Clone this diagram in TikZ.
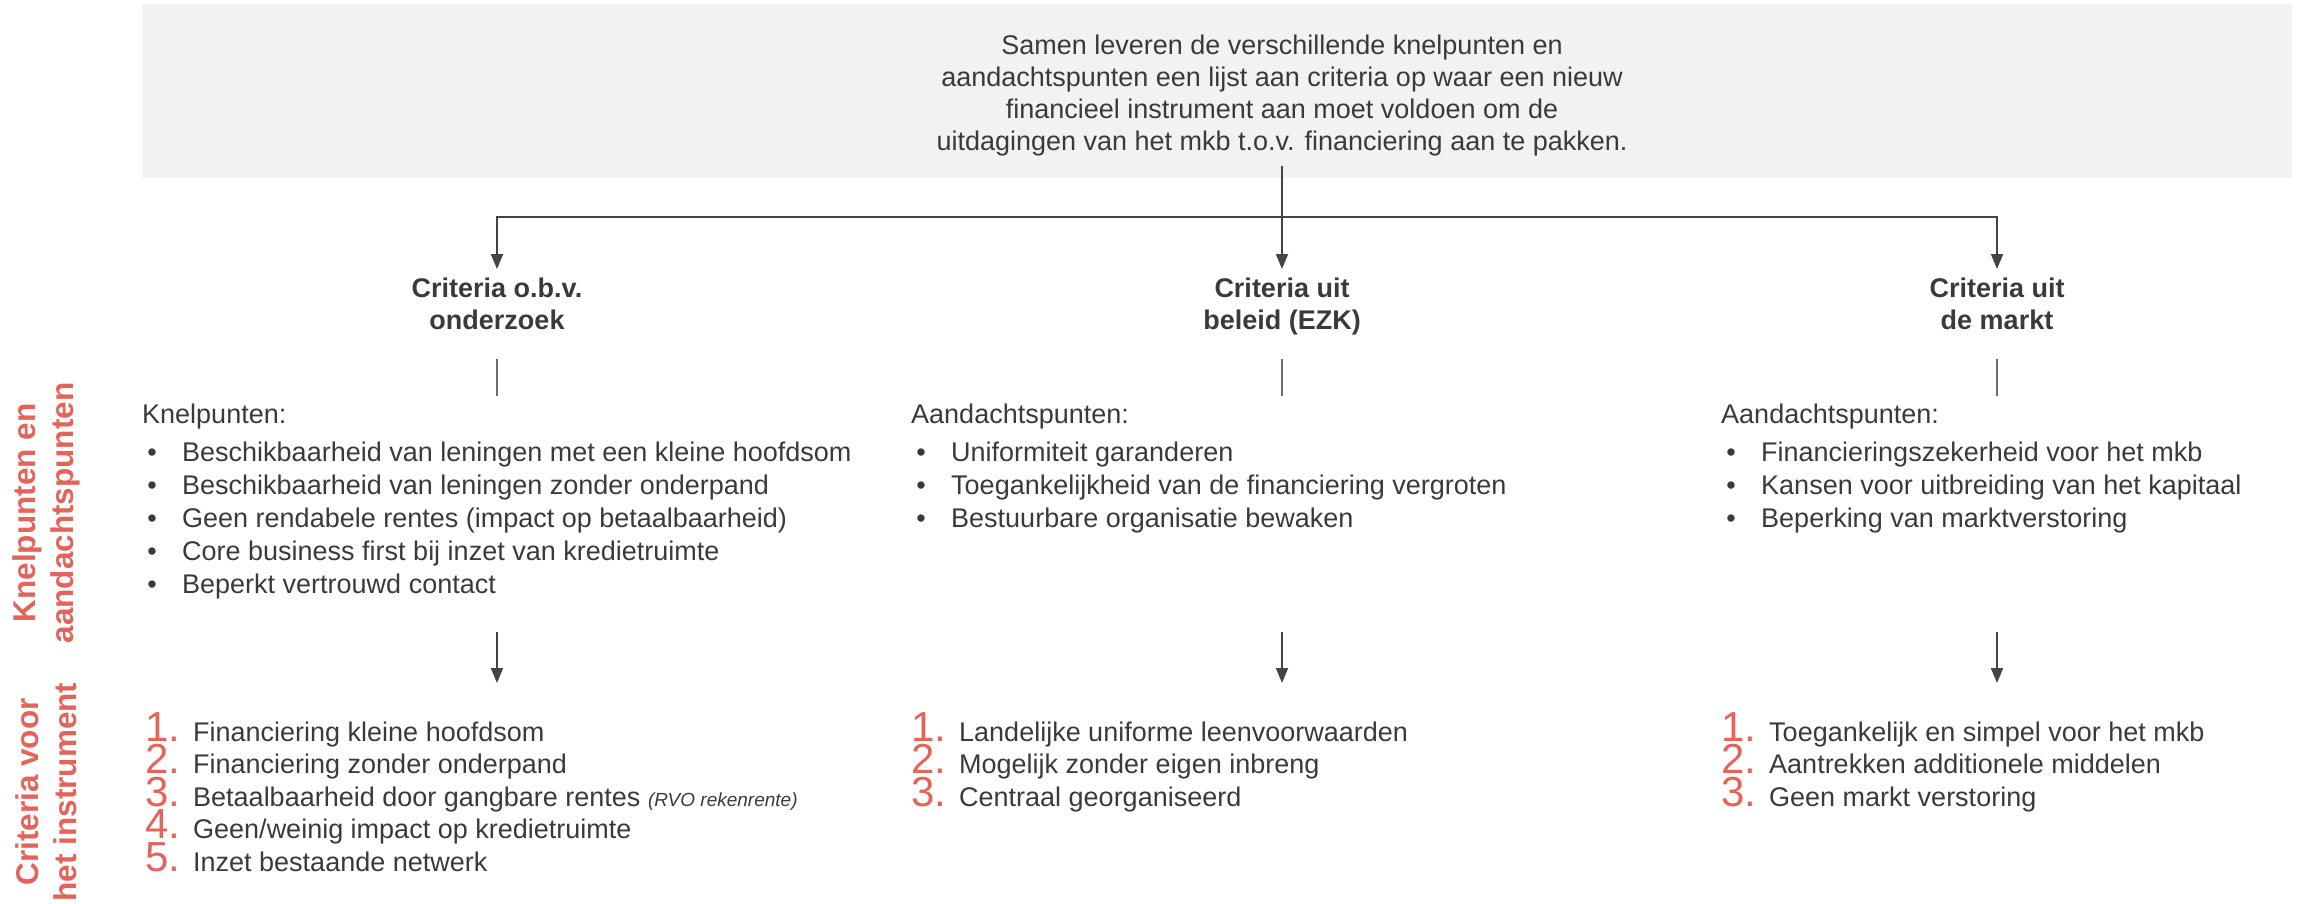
\documentclass[tikz,border=0pt]{standalone}
\usepackage{fontspec}
\setmainfont{Liberation Sans}
\usetikzlibrary{arrows.meta,positioning,calc}
\definecolor{ink}{HTML}{3A3A3A}
\definecolor{accent}{HTML}{E2645A}
\definecolor{vak}{HTML}{F2F2F2}
\definecolor{streepgrijs}{HTML}{6E6E6E}
\tikzset{tekst/.style={inner sep=0pt,text=ink,font=\fontsize{27}{32}\selectfont},
  punt/.style={tekst,anchor=base west},
  nr/.style={inner sep=0pt,anchor=base west,text=accent,font=\fontsize{42}{32}\selectfont},
  titel/.style={anchor=north,align=center,inner xsep=0pt,inner ysep=8.5pt,text=ink,
    font=\bfseries\fontsize{27}{32}\selectfont},
  zij/.style={rotate=90,align=center,inner sep=0pt,text=accent,
    font=\bfseries\fontsize{31.5}{38}\selectfont},
  lijn/.style={line width=1.8pt,draw=ink!95},
  pijl/.style={lijn,-{Triangle[length=15pt,width=12pt]}},
  streep/.style={line width=1.8pt,draw=streepgrijs}}
% kop met opsomming: x, naam, kop, punten
\newcommand{\punten}[4]{%
\node[punt] (#2kop) at (#1,423) {#3};
\foreach \t [count=\i] in {#4}{
 \node[punt] (#2p\i) at (#1+40,{461+(\i-1)*33}) {\t};
 \node[tekst,anchor=base] (#2b\i) at (#1+10,{461+(\i-1)*33}) {\textbullet};
}}
% genummerde criteria: x, naam, criteria
\newcommand{\eisen}[3]{%
\foreach \t [count=\i] in {#3}{
 \node[nr] (#2n\i) at (#1,{741+(\i-1)*32.5}) {\i.};
 \node[punt] (#2e\i) at (#1+48,{741+(\i-1)*32.5}) {\t};
}}

\begin{document}
\begin{tikzpicture}[x=1pt,y=-1pt]
\useasboundingbox (0,0) rectangle (2303,903);
\fill[vak] (142,4) rectangle (2292,178);
\node[tekst,align=center] (intro) at (1282,96) {Samen leveren de verschillende knelpunten en\\
  aandachtspunten een lijst aan criteria op waar een nieuw\\
  financieel instrument aan moet voldoen om de\\
  uitdagingen van het mkb t.o.v. financiering aan te pakken.};
% drie bronnen
\node[titel] (ta) at (497,269) {Criteria o.b.v.\\onderzoek};
\node[titel] (tb) at (1282,269) {Criteria uit\\beleid (EZK)};
\node[titel] (tc) at (1997,269) {Criteria uit\\de markt};
\coordinate (split) at (1282,166);
\coordinate (hM) at (1282,217);
\draw[pijl] (split) -- (tb);
\draw[pijl] (hM) -| (ta);
\draw[pijl] (hM) -| (tc);
\foreach \cx/\k in {497/a,1282/b,1997/c}{
 \coordinate (\k-s1) at (\cx,359); \coordinate (\k-s2) at (\cx,396);
 \coordinate (\k-p1) at (\cx,632); \coordinate (\k-p2) at (\cx,683);
 \draw[streep] (\k-s1) -- (\k-s2);
 \draw[pijl] (\k-p1) -- (\k-p2);
}
% zijlabels
\node[zij] (knel) at (46,513) {Knelpunten en\\aandachtspunten};
\node[zij] (crit) at (46,792) {Criteria voor\\het instrument};
% kolommen
\punten{142}{a}{Knelpunten:}{Beschikbaarheid van leningen met een kleine hoofdsom,
 Beschikbaarheid van leningen zonder onderpand,
 Geen rendabele rentes (impact op betaalbaarheid),
 Core business first bij inzet van kredietruimte,
 Beperkt vertrouwd contact}
\punten{911}{b}{Aandachtspunten:}{Uniformiteit garanderen,
 Toegankelijkheid van de financiering vergroten,
 Bestuurbare organisatie bewaken}
\punten{1721}{c}{Aandachtspunten:}{Financieringszekerheid voor het mkb,
 Kansen voor uitbreiding van het kapitaal,
 Beperking van marktverstoring}
\eisen{145}{a}{Financiering kleine hoofdsom,
 Financiering zonder onderpand,
 {Betaalbaarheid door gangbare rentes {\itshape\fontsize{19}{20}\selectfont(RVO rekenrente)}},
 Geen/weinig impact op kredietruimte,
 Inzet bestaande netwerk}
\eisen{911}{b}{Landelijke uniforme leenvoorwaarden,
 Mogelijk zonder eigen inbreng,
 Centraal georganiseerd}
\eisen{1721}{c}{Toegankelijk en simpel voor het mkb,
 Aantrekken additionele middelen,
 Geen markt verstoring}
\end{tikzpicture}
\end{document}
